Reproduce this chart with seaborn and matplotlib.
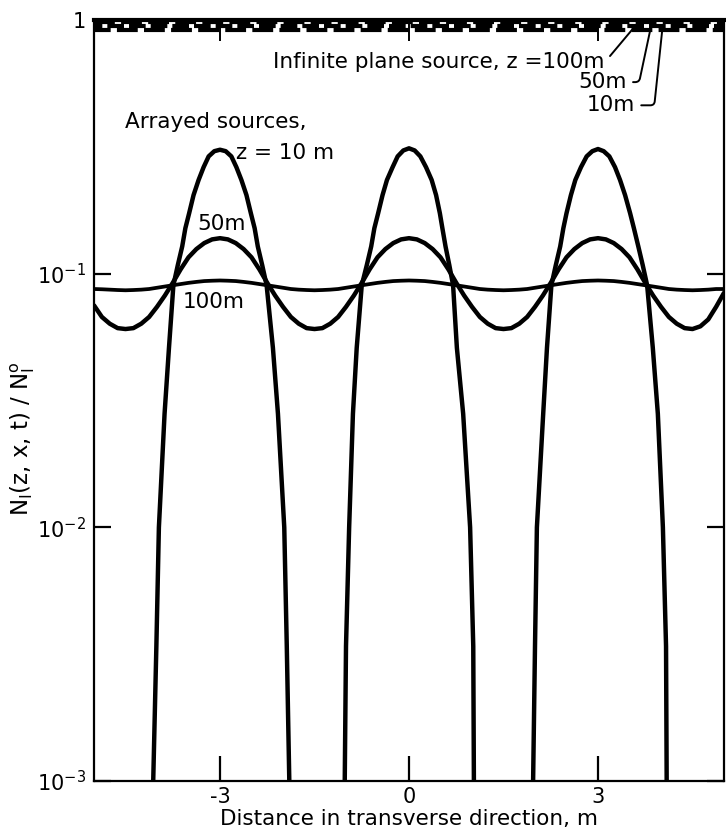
import numpy as np
import pandas as pd
import matplotlib
matplotlib.use("Agg")
import matplotlib.pyplot as plt
import seaborn as sns
from matplotlib.ticker import FixedLocator, NullLocator, FixedFormatter

sns.set_style("white")
plt.rcParams['font.family'] = ['DejaVu Sans']
plt.rcParams['mathtext.fontset'] = 'dejavusans'
for k in ["text.color", "axes.labelcolor", "xtick.color", "ytick.color", "axes.edgecolor"]:
    plt.rcParams[k] = "black"

# ---------------- data ----------------
# Arrayed sources, z = 10 m
x_10m = [-4.12, -4.06, -4.01, -3.97, -3.88, -3.81, -3.74, -3.67, -3.60, -3.55, -3.49, -3.42,
         -3.34, -3.26, -3.18, -3.09, -3.00, -2.91, -2.82, -2.74, -2.66, -2.58, -2.51, -2.45,
         -2.40, -2.33, -2.26, -2.16, -2.08, -1.98, -1.94, -1.90, -1.87,
         -1.05, -1.02, -1.00, -0.95, -0.89, -0.83, -0.75, -0.67, -0.60, -0.55, -0.49, -0.42,
         -0.35, -0.26, -0.18, -0.09, 0.00, 0.09, 0.18, 0.27, 0.36, 0.43, 0.49, 0.53,
         0.58, 0.64, 0.70, 0.76, 0.86, 0.97, 1.02, 1.03, 1.06,
         1.94, 1.97, 2.00, 2.03, 2.13, 2.19, 2.26, 2.33, 2.40, 2.45, 2.50, 2.57,
         2.64, 2.73, 2.82, 2.91, 3.00, 3.09, 3.18, 3.27, 3.35, 3.43, 3.51, 3.57,
         3.64, 3.71, 3.78, 3.87, 3.95, 4.03, 4.08, 4.09, 4.12]
v_10m = [3e-4, 1e-3, 3.4e-3, 1e-2, 2.8e-2, 5.1e-2, 0.090, 0.108, 0.128, 0.151, 0.173, 0.204,
         0.234, 0.263, 0.290, 0.304, 0.308, 0.304, 0.290, 0.263, 0.234, 0.204, 0.173, 0.151,
         0.128, 0.108, 0.090, 5.1e-2, 2.8e-2, 1e-2, 3.4e-3, 1e-3, 3e-4,
         3e-4, 1e-3, 3.4e-3, 1e-2, 2.8e-2, 5.1e-2, 0.090, 0.108, 0.128, 0.151, 0.173, 0.204,
         0.234, 0.263, 0.290, 0.306, 0.312, 0.306, 0.290, 0.263, 0.234, 0.204, 0.173, 0.151,
         0.128, 0.108, 0.090, 5.1e-2, 2.8e-2, 1e-2, 3.4e-3, 1e-3, 3e-4,
         3e-4, 1e-3, 3.4e-3, 1e-2, 2.8e-2, 5.1e-2, 0.090, 0.108, 0.128, 0.151, 0.173, 0.204,
         0.234, 0.263, 0.290, 0.304, 0.310, 0.304, 0.290, 0.263, 0.234, 0.204, 0.173, 0.151,
         0.128, 0.108, 0.090, 5.1e-2, 2.8e-2, 1e-2, 3.4e-3, 1e-3, 3e-4]

# Arrayed sources, z = 50 m and 100 m (sampled every 0.125 m)
x_grid = [-5.0, -4.875, -4.75, -4.625, -4.5, -4.375, -4.25, -4.125, -4.0, -3.875, -3.75,
          -3.625, -3.5, -3.375, -3.25, -3.125, -3.0, -2.875, -2.75, -2.625, -2.5, -2.375,
          -2.25, -2.125, -2.0, -1.875, -1.75, -1.625, -1.5, -1.375, -1.25, -1.125, -1.0,
          -0.875, -0.75, -0.625, -0.5, -0.375, -0.25, -0.125, 0.0, 0.125, 0.25, 0.375, 0.5,
          0.625, 0.75, 0.875, 1.0, 1.125, 1.25, 1.375, 1.5, 1.625, 1.75, 1.875, 2.0, 2.125,
          2.25, 2.375, 2.5, 2.625, 2.75, 2.875, 3.0, 3.125, 3.25, 3.375, 3.5, 3.625, 3.75,
          3.875, 4.0, 4.125, 4.25, 4.375, 4.5, 4.625, 4.75, 4.875, 5.0]
v_50m = [0.075, 0.0675, 0.0635, 0.061, 0.0605, 0.061, 0.0635, 0.0675, 0.074, 0.082, 0.092,
         0.104, 0.116, 0.125, 0.132, 0.1365, 0.138, 0.1365, 0.132, 0.125, 0.116, 0.104,
         0.092, 0.082, 0.074, 0.0675, 0.0635, 0.061, 0.0605, 0.061, 0.0635, 0.0675, 0.074,
         0.082, 0.092, 0.104, 0.116, 0.125, 0.132, 0.1365, 0.138, 0.1365, 0.132, 0.125, 0.116,
         0.104, 0.092, 0.082, 0.074, 0.0675, 0.0635, 0.061, 0.0605, 0.061, 0.0635, 0.0675,
         0.074, 0.082, 0.092, 0.104, 0.116, 0.125, 0.132, 0.1365, 0.138, 0.1365, 0.132,
         0.125, 0.116, 0.104, 0.092, 0.082, 0.074, 0.0675, 0.0635, 0.061, 0.0605, 0.062,
         0.066, 0.074, 0.084]
v_100m = [0.087, 0.0868, 0.0865, 0.0862, 0.086, 0.0862, 0.0865, 0.087, 0.088, 0.089, 0.090,
          0.091, 0.092, 0.0928, 0.0935, 0.0938, 0.094, 0.0938, 0.0935, 0.0928, 0.092, 0.091,
          0.090, 0.089, 0.088, 0.087, 0.0865, 0.0862, 0.086, 0.0862, 0.0865, 0.087, 0.088,
          0.089, 0.090, 0.091, 0.092, 0.0928, 0.0935, 0.0938, 0.094, 0.0938, 0.0935, 0.0928,
          0.092, 0.091, 0.090, 0.089, 0.088, 0.087, 0.0865, 0.0862, 0.086, 0.0862, 0.0865,
          0.087, 0.088, 0.089, 0.090, 0.091, 0.092, 0.0928, 0.0935, 0.0938, 0.094, 0.0938,
          0.0935, 0.0928, 0.092, 0.091, 0.090, 0.089, 0.088, 0.087, 0.0865, 0.0862, 0.086,
          0.0862, 0.0865, 0.087, 0.087]

# Infinite plane source (constant across x)
x_plane = [-5.0, 5.0]
plane_labels = ["Infinite plane source, z =100m", "50m", "10m"]
plane_values = [0.980, 0.947, 0.915]

x_ticks = [-3, 0, 3]
x_ticklabels = ["-3", "0", "3"]
y_ticks = [1e-3, 1e-2, 1e-1, 1.0]
y_ticklabels = [r"$10^{-3}$", r"$10^{-2}$", r"$10^{-1}$", "1"]

# ---------------- figure ----------------
W, H = 726, 839
fig = plt.figure(figsize=(W / 100, H / 100), dpi=100)
ax = fig.add_axes([94 / W, 1 - 781 / H, (724 - 94) / W, (781 - 20) / H])

sns.lineplot(x=x_10m, y=v_10m, ax=ax, color="black", lw=3.2, estimator=None, sort=False)
sns.lineplot(x=x_grid, y=v_50m, ax=ax, color="black", lw=3.2, estimator=None, sort=False)
sns.lineplot(x=x_grid, y=v_100m, ax=ax, color="black", lw=2.7, estimator=None, sort=False)
for ln in ax.lines:
    ln.set_solid_joinstyle("round")
    ln.set_solid_capstyle("round")

dash_patterns = [(0, (5, 1.5)), (2, (4, 1.2)), (1, (5, 1.5))]
for val, ls in zip(plane_values, dash_patterns):
    sns.lineplot(x=x_plane, y=[val, val], ax=ax, color="black", lw=3.0,
                 estimator=None, sort=False)
    ax.lines[-1].set_linestyle(ls)

ax.set_yscale("log")
ax.set_xlim(-5, 5)
ax.set_ylim(1e-3, 1)

ax.yaxis.set_major_locator(FixedLocator(y_ticks))
ax.yaxis.set_major_formatter(FixedFormatter(y_ticklabels))
ax.yaxis.set_minor_locator(NullLocator())
ax.xaxis.set_major_locator(FixedLocator(x_ticks))
ax.xaxis.set_major_formatter(FixedFormatter(x_ticklabels))
ax.xaxis.set_minor_locator(NullLocator())

ax.tick_params(axis="y", which="major", direction="in", length=12, width=1.6,
               left=True, right=True, labelsize=15, pad=6)
ax.tick_params(axis="x", which="major", direction="in", length=18, width=1.6,
               bottom=True, top=False, labelsize=15, pad=4)

sec = ax.secondary_xaxis("top")
sec.xaxis.set_major_locator(FixedLocator(x_ticks))
sec.tick_params(axis="x", direction="in", length=15, width=1.4, labeltop=False)
sec.spines["top"].set_visible(False)

for side, sp in ax.spines.items():
    sp.set_color("black")
    sp.set_linewidth(1.6)
ax.spines["top"].set_linewidth(3.0)

ax.set_xlabel("Distance in transverse direction, m", fontsize=15.5, labelpad=2)
ax.set_ylabel(r"N$_\mathrm{I}$(z, x, t) / N$_\mathrm{I}^\mathrm{o}$", fontsize=16.5)
ax.yaxis.set_label_coords(-0.09, 0.45)

# ---------------- annotations ----------------
fs = 15.5
ax.text(-4.51, 0.395, "Arrayed sources,", fontsize=fs, ha="left", va="center")
ax.text(-2.75, 0.30, "z = 10 m", fontsize=fs, ha="left", va="center")
ax.text(-2.98, 0.157, "50m", fontsize=fs, ha="center", va="center")
ax.text(-3.10, 0.077, "100m", fontsize=fs, ha="center", va="center")

plane_text_pos = [(3.11, 0.682), (3.46, 0.569), (3.59, 0.461)]
plane_targets_x = [3.54, 3.83, 4.02]
plane_angles = [50, 78, 84]
for lab, (tx, ty), px, ang in zip(plane_labels, plane_text_pos, plane_targets_x, plane_angles):
    ax.annotate(lab, xy=(px, plane_values[-1]), xytext=(tx, ty), fontsize=fs,
                ha="right", va="center",
                arrowprops=dict(arrowstyle="-", color="black", lw=1.4,
                                shrinkA=2, shrinkB=0,
                                connectionstyle=f"angle,angleA=0,angleB={ang},rad=4"))

fig.savefig("out.png", dpi=100, facecolor="white")
